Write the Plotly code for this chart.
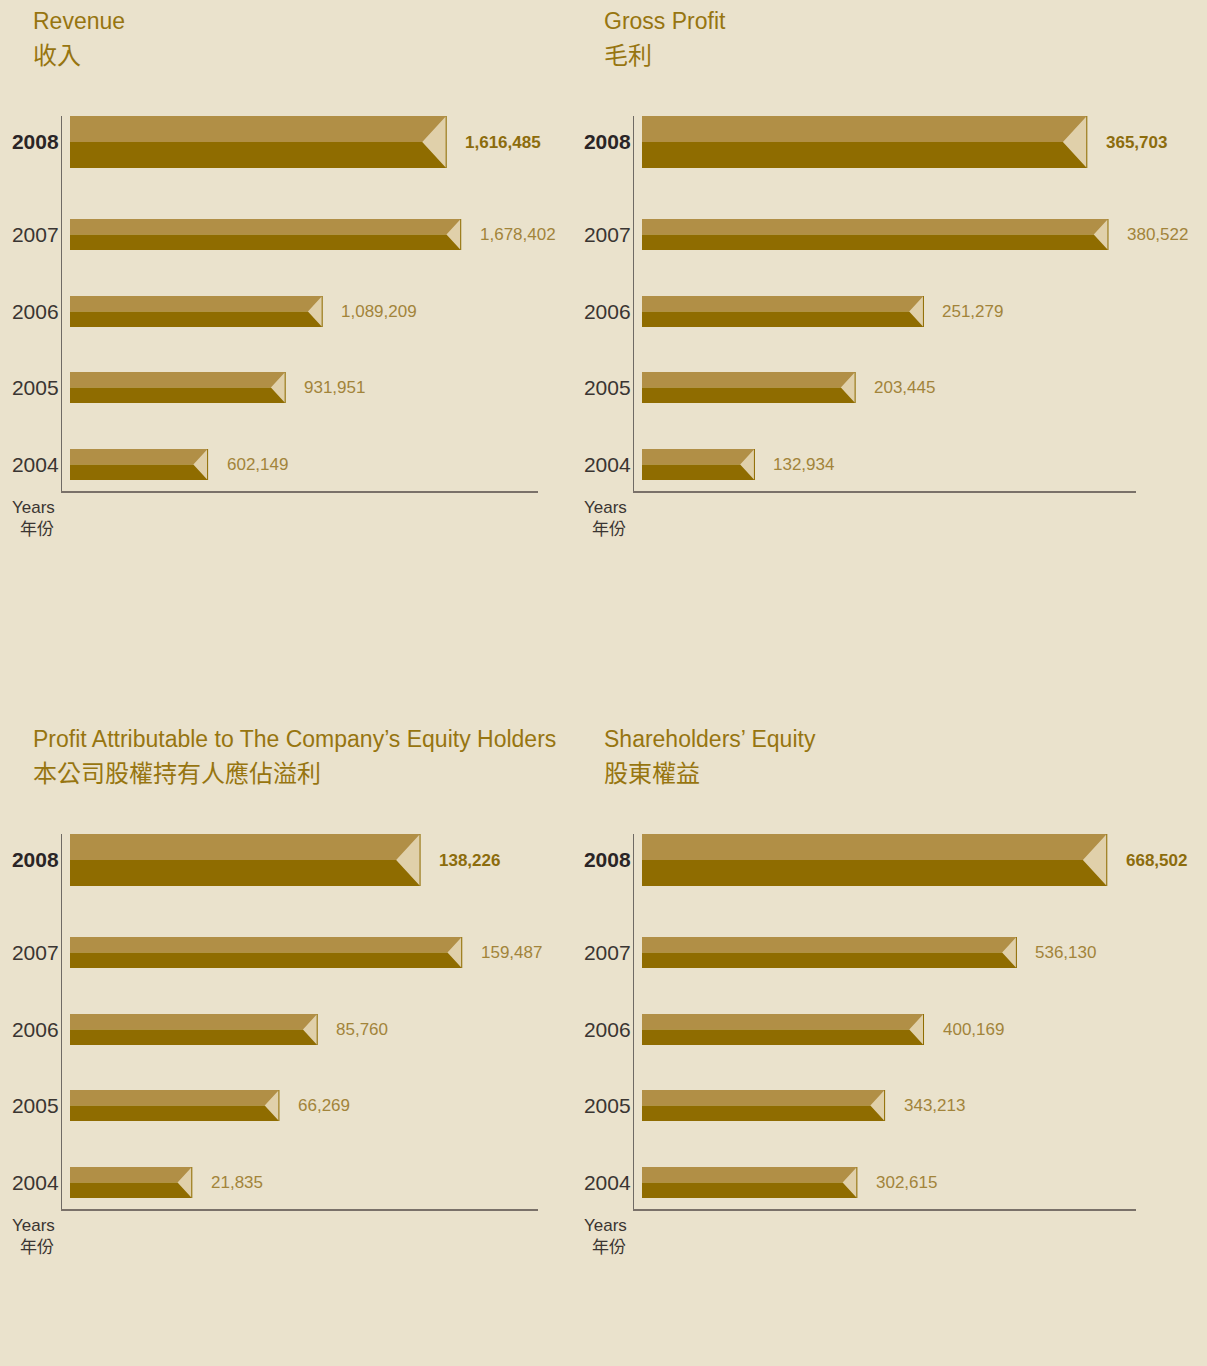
import plotly.graph_objects as go

# ---------------- data ----------------
YEARS = ["2008", "2007", "2006", "2005", "2004"]
REVENUE = [1616485, 1678402, 1089209, 931951, 602149]
GROSS_PROFIT = [365703, 380522, 251279, 203445, 132934]
PROFIT_ATTR = [138226, 159487, 85760, 66269, 21835]
EQUITY = [668502, 536130, 400169, 343213, 302615]

TITLES_EN = ["Revenue", "Gross Profit",
             "Profit Attributable to The Company\u2019s Equity Holders",
             "Shareholders\u2019 Equity"]
TITLES_ZH = ["收入", "毛利", "本公司股權持有人應佔溢利", "股東權益"]
AXIS_EN = "Years"
AXIS_ZH = "年份"

# ---------------- styling / layout ----------------
W, H = 1207, 1366
BG = "#EAE2CC"
LIGHT = "#B18F46"
DARK = "#8F6C00"
CREAM = "#E0D0AA"
TITLE_C = "#977510"
LABEL_C = "#A2843A"
LABEL_BOLD_C = "#8C6C0C"
YEAR_C = "#2A2526"
YEAR_LIGHT_C = "#3A3532"

# row layout inside each panel (pixel units from top of axis)
ROW_CENTER = [26, 118.5, 195.5, 271.5, 348.5]
ROW_HEIGHT = [52, 31, 31, 31, 31]
PANEL_H = 375

panels = [
    dict(vals=REVENUE, L=62, R=538, top=116, xr=[-17000, 2007000], tx=31, ty=21),
    dict(vals=GROSS_PROFIT, L=634, R=1136, top=116, xr=[48600, 400140], tx=602, ty=21),
    dict(vals=PROFIT_ATTR, L=62, R=538, top=834, xr=[-44365, 198368], tx=31, ty=739),
    dict(vals=EQUITY, L=634, R=1136, top=834, xr=[-23719, 711274], tx=602, ty=739),
]

fig = go.Figure()
annotations = []
layout_axes = {}

for i, p in enumerate(panels):
    n = "" if i == 0 else str(i + 1)
    xref, yref = "x" + n, "y" + n
    lo, hi = p["xr"]
    axis_px = p["R"] - p["L"]
    upp = (hi - lo) / axis_px  # data units per pixel
    base = lo + 8 * upp
    vals = p["vals"]

    # light top half / dark bottom half
    fig.add_trace(go.Bar(
        orientation="h", x=[v - base for v in vals], base=base,
        y=[c - h / 4 for c, h in zip(ROW_CENTER, ROW_HEIGHT)],
        width=[h / 2 for h in ROW_HEIGHT],
        marker=dict(color=LIGHT, line=dict(width=0)),
        xaxis=xref, yaxis=yref, hoverinfo="skip", showlegend=False))
    fig.add_trace(go.Bar(
        orientation="h", x=[v - base for v in vals], base=base,
        y=[c + h / 4 for c, h in zip(ROW_CENTER, ROW_HEIGHT)],
        width=[h / 2 for h in ROW_HEIGHT],
        marker=dict(color=DARK, line=dict(width=0)),
        xaxis=xref, yaxis=yref, hoverinfo="skip", showlegend=False))

    # cream notch at bar end
    tx_, ty_ = [], []
    ex, ey = [], []
    for v, c, h in zip(vals, ROW_CENTER, ROW_HEIGHT):
        w = 0.46 * h * upp
        tx_ += [v, v - w, v, v, None]
        ty_ += [c - h / 2, c, c + h / 2, c - h / 2, None]
        ex += [v, v, None]
        ey += [c - h / 2, c + h / 2, None]
    fig.add_trace(go.Scatter(
        x=tx_, y=ty_, mode="lines", fill="toself", fillcolor=CREAM,
        line=dict(width=0, color=CREAM), xaxis=xref, yaxis=yref,
        hoverinfo="skip", showlegend=False))
    fig.add_trace(go.Scatter(
        x=ex, y=ey, mode="lines", line=dict(width=1, color=DARK),
        xaxis=xref, yaxis=yref, hoverinfo="skip", showlegend=False))

    # value labels
    for k, (v, c) in enumerate(zip(vals, ROW_CENTER)):
        txt = f"{v:,}"
        annotations.append(dict(
            x=v, y=c, xref=xref, yref=yref, xanchor="left", yanchor="middle",
            xshift=17, showarrow=False,
            text=f"<b>{txt}</b>" if k == 0 else txt,
            font=dict(family="Liberation Sans, Arial", size=17,
                      color=LABEL_BOLD_C if k == 0 else LABEL_C)))

    # titles
    annotations.append(dict(
        x=p["tx"] / W, y=1 - p["ty"] / H, xref="paper", yref="paper",
        xanchor="left", yanchor="middle", showarrow=False, text=TITLES_EN[i],
        font=dict(family="Liberation Sans, Arial", size=23, color=TITLE_C)))
    annotations.append(dict(
        x=p["tx"] / W, y=1 - (p["ty"] + 32) / H, xref="paper", yref="paper",
        xanchor="left", yanchor="middle", showarrow=False, text=TITLES_ZH[i],
        font=dict(family="Noto Sans CJK TC", size=24, color=TITLE_C)))

    # years caption
    bottom = p["top"] + PANEL_H
    annotations.append(dict(
        x=(p["L"] - 5) / W, y=1 - (bottom + 16) / H, xref="paper", yref="paper",
        xanchor="right", yanchor="middle", showarrow=False, text=AXIS_EN,
        font=dict(family="Liberation Sans, Arial", size=17, color=YEAR_LIGHT_C)))
    annotations.append(dict(
        x=(p["L"] - 6) / W, y=1 - (bottom + 36) / H, xref="paper", yref="paper",
        xanchor="right", yanchor="middle", showarrow=False, text=AXIS_ZH,
        font=dict(family="Noto Sans CJK TC", size=17, color=YEAR_LIGHT_C)))

    layout_axes["xaxis" + n] = dict(
        domain=[p["L"] / W, p["R"] / W], range=[lo, hi],
        showgrid=False, zeroline=False, showticklabels=False, ticks="",
        showline=True, linecolor="#7A7169", linewidth=1.6, anchor=yref,
        fixedrange=True)
    layout_axes["yaxis" + n] = dict(
        domain=[1 - bottom / H, 1 - p["top"] / H], range=[PANEL_H, 0],
        showgrid=False, zeroline=False, ticks="",
        tickmode="array", tickvals=ROW_CENTER,
        ticktext=[f"<b>{y}</b>" if j == 0 else f"<span style='color:{YEAR_LIGHT_C}'>{y}</span>"
                  for j, y in enumerate(YEARS)],
        tickfont=dict(family="Liberation Sans, Arial", size=21, color=YEAR_C),
        ticklabelstandoff=-2,
        showline=True, linecolor="#6F6A64", linewidth=1.4, anchor=xref,
        fixedrange=True)

fig.update_layout(
    width=W, height=H, margin=dict(l=0, r=0, t=0, b=0),
    paper_bgcolor=BG, plot_bgcolor=BG, barmode="overlay",
    showlegend=False, annotations=annotations, **layout_axes)

fig.write_html(
    "out.html",
    config={"displayModeBar": False},
    post_script="document.body.style.margin='0';document.body.style.overflow='hidden';")
